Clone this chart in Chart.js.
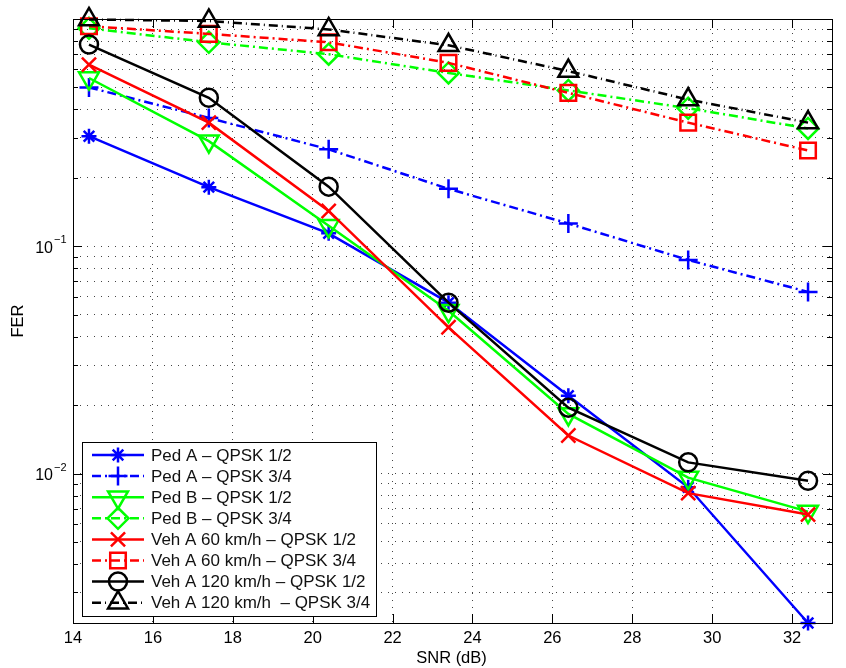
<!DOCTYPE html>
<html><head><meta charset="utf-8">
<script src="https://cdn.jsdelivr.net/npm/chart.js@4"></script>
<style>html,body{margin:0;padding:0;background:#fff;}canvas{display:block}</style>
</head><body>
<canvas id="c" width="846" height="668"></canvas>
<script>
// ---- data ----
const snr = [14.4, 17.4, 20.4, 23.4, 26.4, 29.4, 32.4];
const pedA12   = [0.305, 0.182, 0.114, 0.0565, 0.022, 0.0087, 0.0022];
const pedA34   = [0.50, 0.367, 0.267, 0.179, 0.126, 0.087, 0.063];
const pedB12   = [0.55, 0.29, 0.123, 0.052, 0.0183, 0.0096, 0.0068];
const pedB34   = [0.91, 0.79, 0.70, 0.579, 0.485, 0.405, 0.33];
const vehA60_12  = [0.63, 0.35, 0.143, 0.044, 0.0147, 0.0082, 0.0066];
const vehA60_34  = [0.93, 0.86, 0.79, 0.641, 0.473, 0.35, 0.264];
const vehA120_12 = [0.772, 0.45, 0.183, 0.0565, 0.0195, 0.0112, 0.0093];
const vehA120_34 = [0.995, 0.98, 0.90, 0.766, 0.59, 0.442, 0.35];
const seriesNames = [
  'Ped A \u2013 QPSK 1/2', 'Ped A \u2013 QPSK 3/4',
  'Ped B \u2013 QPSK 1/2', 'Ped B \u2013 QPSK 3/4',
  'Veh A 60 km/h \u2013 QPSK 1/2', 'Veh A 60 km/h \u2013 QPSK 3/4',
  'Veh A 120 km/h \u2013 QPSK 1/2', 'Veh A 120 km/h  \u2013 QPSK 3/4'
];
const xTicks = [14, 16, 18, 20, 22, 24, 26, 28, 30, 32];
const xMin = 14, xMax = 33;
const yMin = 0.0022, yMax = 1;
const yDecadeLabels = [0.1, 0.01];
const xTitle = 'SNR (dB)';
const yTitle = 'FER';

// ---- styles ----
const FONT = '"Liberation Sans", Arial, Helvetica, sans-serif';
const DASHDOT = [9, 4, 2, 4];
const styles = [
  {c:'#0000ff', dash:[], ps:'star', r:7.5, rot:0},
  {c:'#0000ff', dash:DASHDOT, ps:'cross', r:9.5, rot:0},
  {c:'#00ff00', dash:[], ps:'triangle', r:11.5, rot:180},
  {c:'#00ff00', dash:DASHDOT, ps:'rectRot', r:10.5, rot:0},
  {c:'#ff0000', dash:[], ps:'crossRot', r:10, rot:0},
  {c:'#ff0000', dash:DASHDOT, ps:'rect', r:11, rot:0},
  {c:'#000000', dash:[], ps:'circle', r:9, rot:0},
  {c:'#000000', dash:[9,4,1,4], ps:'triangle', r:11.5, rot:0}
];
const seriesValues = [pedA12, pedA34, pedB12, pedB34, vehA60_12, vehA60_34, vehA120_12, vehA120_34];

const yTickVals = [];
for (let e = -3; e <= 0; e++) {
  for (let k = 1; k <= 9; k++) {
    const v = parseFloat((k * Math.pow(10, e)).toPrecision(3));
    if (v >= yMin - 1e-12 && v <= yMax + 1e-12) yTickVals.push(v);
  }
}
function isDecade(v){ const l = Math.log10(v); return Math.abs(l - Math.round(l)) < 1e-9; }

const datasets = seriesValues.map((vals, i) => ({
  label: seriesNames[i],
  data: snr.map((x, j) => ({x: x, y: vals[j]})),
  borderColor: styles[i].c,
  backgroundColor: 'rgba(0,0,0,0)',
  borderWidth: 2.5,
  borderDash: styles[i].dash,
  pointStyle: styles[i].ps,
  pointRadius: styles[i].r,
  pointRotation: styles[i].rot,
  pointBorderWidth: 2.5,
  pointBorderColor: styles[i].c,
  pointBackgroundColor: 'rgba(0,0,0,0)',
  tension: 0,
  clip: false,
  order: seriesValues.length - i
}));

const decor = {
  id: 'decor',
  afterDraw(chart) {
    const ctx = chart.ctx, a = chart.chartArea;
    const xs = chart.scales.x, ys = chart.scales.y;
    ctx.save();
    // border
    ctx.strokeStyle = '#000'; ctx.lineWidth = 1; ctx.setLineDash([]);
    ctx.strokeRect(Math.round(a.left) + 0.5, Math.round(a.top) + 0.5,
                   Math.round(a.right - a.left), Math.round(a.bottom - a.top));
    // ticks
    ctx.beginPath();
    xTicks.forEach(v => {
      const px = Math.round(xs.getPixelForValue(v)) + 0.5;
      ctx.moveTo(px, a.bottom); ctx.lineTo(px, a.bottom - 9);
      ctx.moveTo(px, a.top); ctx.lineTo(px, a.top + 9);
    });
    yTickVals.forEach(v => {
      const py = Math.round(ys.getPixelForValue(v)) + 0.5;
      const len = isDecade(v) ? 9 : 5;
      ctx.moveTo(a.left, py); ctx.lineTo(a.left + len, py);
      ctx.moveTo(a.right, py); ctx.lineTo(a.right - len, py);
    });
    ctx.stroke();
    // x tick labels
    ctx.fillStyle = '#000';
    ctx.font = '16.5px ' + FONT;
    ctx.textAlign = 'center'; ctx.textBaseline = 'middle';
    xTicks.forEach(v => ctx.fillText(String(v), xs.getPixelForValue(v), 638));
    // y decade labels
    yDecadeLabels.forEach(v => {
      const py = ys.getPixelForValue(v);
      const ex = Math.round(Math.log10(v));
      ctx.font = '16px ' + FONT;
      ctx.textAlign = 'right'; ctx.textBaseline = 'middle';
      ctx.fillText('10', 53, py + 2);
      ctx.font = '11px ' + FONT;
      ctx.textAlign = 'left';
      ctx.fillText('\u2212' + Math.abs(ex), 54, py - 6);
    });
    // titles
    ctx.font = '16.5px ' + FONT;
    ctx.textAlign = 'center'; ctx.textBaseline = 'middle';
    ctx.fillText(xTitle, (a.left + a.right) / 2 - 1, 658);
    ctx.save();
    ctx.translate(18, (a.top + a.bottom) / 2);
    ctx.rotate(-Math.PI / 2);
    ctx.fillText(yTitle, 0, 0);
    ctx.restore();
    // legend
    const L = {x: 82, y: 442, w: 294, h: 174};
    ctx.fillStyle = '#fff';
    ctx.fillRect(L.x, L.y, L.w, L.h);
    ctx.strokeStyle = '#000'; ctx.lineWidth = 1;
    ctx.strokeRect(L.x + 0.5, L.y + 0.5, L.w, L.h);
    chart.data.datasets.forEach((ds, i) => {
      const cy = 455 + i * 21.1;
      ctx.strokeStyle = ds.borderColor; ctx.lineWidth = 2.5;
      ctx.setLineDash(ds.borderDash);
      ctx.beginPath(); ctx.moveTo(92, cy); ctx.lineTo(144, cy); ctx.stroke();
      ctx.setLineDash([]);
      ctx.fillStyle = 'rgba(0,0,0,0)';
      Chart.helpers.drawPoint(ctx, {pointStyle: ds.pointStyle, radius: ds.pointRadius,
        rotation: ds.pointRotation, borderWidth: 2.5}, 118, cy);
      ctx.fillStyle = '#111';
      ctx.font = '17px ' + FONT;
      ctx.textAlign = 'left'; ctx.textBaseline = 'middle';
      ctx.fillText(ds.label, 151, cy + 1);
    });
    ctx.restore();
  }
};

new Chart(document.getElementById('c'), {
  type: 'line',
  data: {datasets: datasets},
  options: {
    responsive: false,
    devicePixelRatio: 1,
    animation: false,
    events: [],
    layout: {padding: {top: 19, right: 7, left: 0, bottom: 0}},
    plugins: {legend: {display: false}, tooltip: {enabled: false}},
    scales: {
      x: {
        type: 'linear', min: xMin, max: xMax,
        afterBuildTicks: s => { s.ticks = xTicks.map(v => ({value: v})); },
        afterFit: s => { s.height = 45; },
        ticks: {display: false},
        grid: {color: '#444', lineWidth: 1, drawTicks: false},
        border: {display: false, dash: [1, 6]}
      },
      y: {
        type: 'logarithmic', min: yMin, max: yMax,
        afterBuildTicks: s => { s.ticks = yTickVals.map(v => ({value: v})); },
        afterFit: s => { s.width = 73; },
        ticks: {display: false},
        grid: {color: '#444', lineWidth: 1, drawTicks: false},
        border: {display: false, dash: [1, 6]}
      }
    }
  },
  plugins: [decor]
});
</script>
</body></html>
